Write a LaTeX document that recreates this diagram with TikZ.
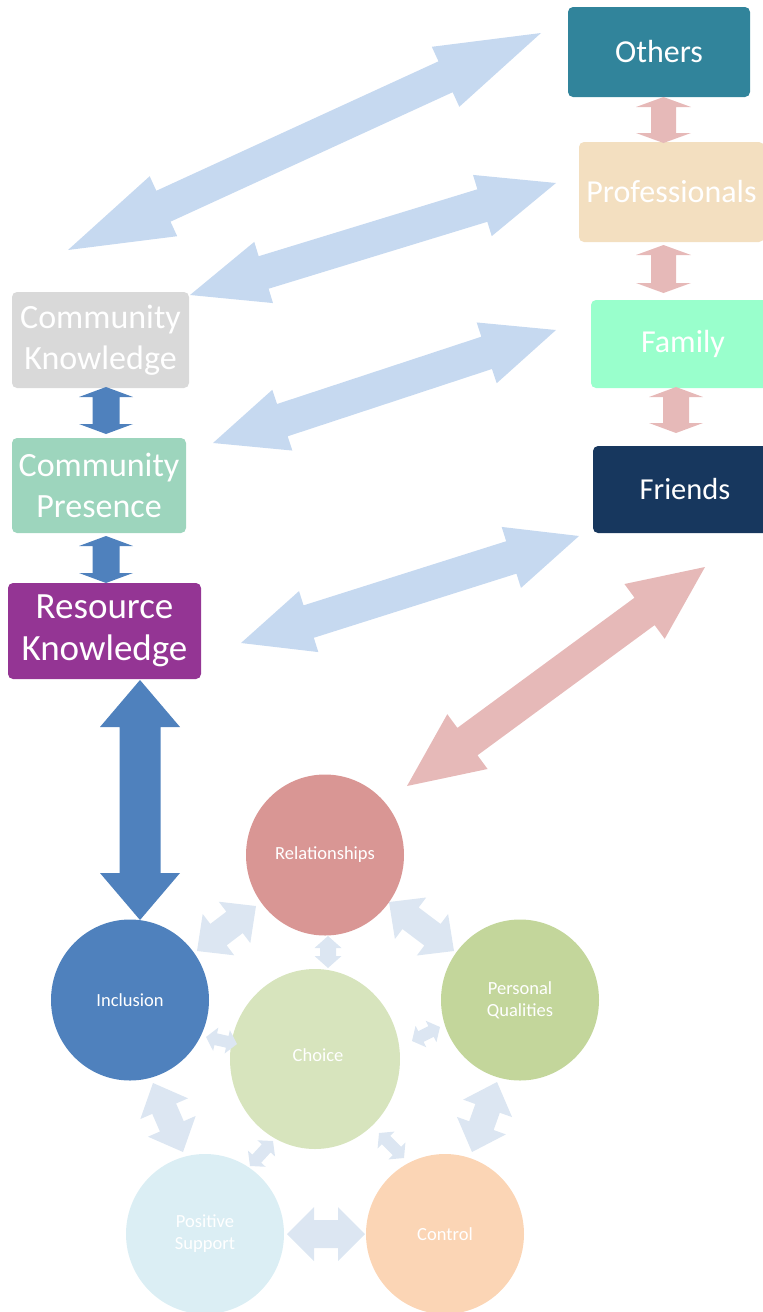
\documentclass[tikz,border=0pt]{standalone}
\usepackage{fontspec}
\setmainfont{Carlito}
\usetikzlibrary{calc,shapes.geometric}
\definecolor{cOthers}{HTML}{31849B}
\definecolor{cProf}{HTML}{F3DFC0}
\definecolor{cFamily}{HTML}{99FFCC}
\definecolor{cFriends}{HTML}{17375E}
\definecolor{cCK}{HTML}{D9D9D9}
\definecolor{cCP}{HTML}{9DD5BD}
\definecolor{cRK}{HTML}{943594}
\definecolor{cRel}{HTML}{D99694}
\definecolor{cInc}{HTML}{4F81BD}
\definecolor{cPQ}{HTML}{C3D69B}
\definecolor{cChoice}{HTML}{D7E4BD}
\definecolor{cPS}{HTML}{DBEEF4}
\definecolor{cCtrl}{HTML}{FBD5B5}
\definecolor{aLight}{HTML}{DCE6F2}
\definecolor{aSky}{HTML}{C6D9F0}
\definecolor{aPink}{HTML}{E6B9B8}
\definecolor{aBlue}{HTML}{4F81BD}
% double block arrow: #1 tip A, #2 tip B, #3 head length, #4 head half width, #5 shaft half width, #6 style
\newcommand{\mydarrow}[6]{%
\fill[#6] (#1)
 -- ($(#1)!#3!(#2)!#4!90:(#2)$)
 -- ($(#1)!#3!(#2)!#5!90:(#2)$)
 -- ($(#2)!#3!(#1)!#5!-90:(#1)$)
 -- ($(#2)!#3!(#1)!#4!-90:(#1)$)
 -- (#2)
 -- ($(#2)!#3!(#1)!#4!90:(#1)$)
 -- ($(#2)!#3!(#1)!#5!90:(#1)$)
 -- ($(#1)!#3!(#2)!#5!-90:(#2)$)
 -- ($(#1)!#3!(#2)!#4!-90:(#2)$)
 -- cycle;}
\begin{document}
\begin{tikzpicture}[x=1pt,y=-1pt,
  box/.style={rectangle, rounded corners=5pt, inner sep=0pt, text=white, align=center},
  rbox/.style={box, font=\fontsize{32}{38}\selectfont},
  lbox/.style={box, font=\fontsize{34}{41}\selectfont},
  circ/.style={ellipse, inner sep=0pt, minimum width=158pt, minimum height=161pt, text=white, align=center, font=\fontsize{18.5}{22}\selectfont}]
\useasboundingbox (0,0) rectangle (763,1312);
\clip (0,0) rectangle (763,1312);
% right boxes
\node[rbox, fill=cOthers, minimum width=182pt, minimum height=90pt] (others) at (659,52) {Others};
\node[rbox, fill=cProf, minimum width=185pt, minimum height=100pt] (prof) at (671.5,192) {Professionals};
\node[rbox, fill=cFamily, minimum width=184pt, minimum height=88pt] (family) at (683,344) {Family};
\node[rbox, fill=cFriends, minimum width=184pt, minimum height=87pt, font=\fontsize{30.5}{36}\selectfont] (friends) at (685,489.5) {Friends};
% left boxes
\node[lbox, fill=cCK, minimum width=177pt, minimum height=96pt] (ck) at (100.5,340) {Community\\Knowledge};
\node[lbox, fill=cCP, minimum width=174pt, minimum height=95pt] (cp) at (99,485.5) {Community\\Presence};
\node[lbox, fill=cRK, minimum width=193pt, minimum height=96pt, font=\fontsize{37}{42}\selectfont] (rk) at (104.5,631) {Resource\\Knowledge};
% circles
\node[circ, fill=cRel] (rel) at (325,855) {Relationships};
\node[circ, fill=cInc] (inc) at (130,1000) {Inclusion};
\node[circ, fill=cPQ] (pq) at (520,1000) {Personal\\Qualities};
\node[circ, fill=cChoice, minimum width=170pt, minimum height=180pt] (choice) at (315,1059) {\hspace*{6pt}\raisebox{8pt}{Choice}};
\node[circ, fill=cPS, minimum height=160pt] (ps) at (205,1234) {Positive\\Support};
\node[circ, fill=cCtrl, minimum height=160pt] (ctrl) at (445,1234) {Control};
% arrow end coordinates
\coordinate (a1) at (68,250);   \coordinate (b1) at (541,33);
\coordinate (a2) at (190,295);  \coordinate (b2) at (556,183);
\coordinate (a3) at (213,443);  \coordinate (b3) at (556,330);
\coordinate (a4) at (241,643);  \coordinate (b4) at (579,536);
\coordinate (a5) at (407,786);  \coordinate (b5) at (705,567);
\coordinate (a6) at (140,680);  \coordinate (b6) at (140,920);
\coordinate (a7) at (663.5,97); \coordinate (b7) at (663.5,143);
\coordinate (a8) at (663.5,245);\coordinate (b8) at (663.5,293);
\coordinate (a9) at (676,387);  \coordinate (b9) at (676,433);
\coordinate (a10) at (106,387); \coordinate (b10) at (106,434);
\coordinate (a11) at (106,536); \coordinate (b11) at (106,583);
\coordinate (a12) at (197,951); \coordinate (b12) at (256,906);
\coordinate (a13) at (389,902); \coordinate (b13) at (454,951);
\coordinate (a14) at (328,936); \coordinate (b14) at (328,968);
\coordinate (a15) at (206,1037);\coordinate (b15) at (237,1044);
\coordinate (a16) at (412,1041);\coordinate (b16) at (440,1027);
\coordinate (a17) at (153,1083);\coordinate (b17) at (183,1152);
\coordinate (a18) at (497,1082);\coordinate (b18) at (472,1152);
\coordinate (a19) at (250,1166);\coordinate (b19) at (273,1141);
\coordinate (a20) at (379,1133);\coordinate (b20) at (404,1158);
\coordinate (a21) at (287,1234);\coordinate (b21) at (365,1234);
% long arrows
\mydarrow{a1}{b1}{105pt}{33pt}{17pt}{aSky}
\mydarrow{a2}{b2}{77pt}{32pt}{17pt}{aSky}
\mydarrow{a3}{b3}{73pt}{32pt}{17pt}{aSky}
\mydarrow{a4}{b4}{71pt}{32pt}{17pt}{aSky}
\mydarrow{a5}{b5}{75pt}{34pt}{17pt}{aPink}
\mydarrow{a6}{b6}{47pt}{40pt}{20.5pt}{aBlue}
% short vertical arrows between boxes
\mydarrow{a7}{b7}{10pt}{27.5pt}{12.5pt}{aPink}
\mydarrow{a8}{b8}{10pt}{27.5pt}{12.5pt}{aPink}
\mydarrow{a9}{b9}{10pt}{27pt}{13pt}{aPink}
\mydarrow{a10}{b10}{10pt}{27pt}{13.5pt}{aBlue}
\mydarrow{a11}{b11}{10pt}{27pt}{13.5pt}{aBlue}
% arrows between circles
\mydarrow{a12}{b12}{27pt}{26pt}{13.5pt}{aLight}
\mydarrow{a13}{b13}{27pt}{26pt}{13.5pt}{aLight}
\mydarrow{a14}{b14}{12pt}{13.5pt}{8pt}{aLight}
\mydarrow{a15}{b15}{10pt}{12pt}{6pt}{aLight}
\mydarrow{a16}{b16}{10pt}{12pt}{6pt}{aLight}
\mydarrow{a17}{b17}{28pt}{26pt}{13pt}{aLight}
\mydarrow{a18}{b18}{28pt}{26pt}{13pt}{aLight}
\mydarrow{a19}{b19}{10pt}{12pt}{6pt}{aLight}
\mydarrow{a20}{b20}{10pt}{12pt}{6pt}{aLight}
\mydarrow{a21}{b21}{27pt}{27pt}{14pt}{aLight}
\end{tikzpicture}
\end{document}
